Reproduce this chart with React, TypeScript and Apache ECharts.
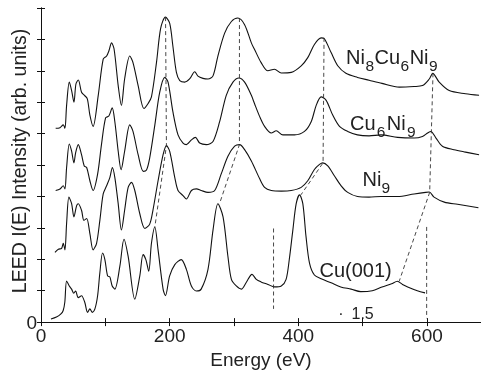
import React, { useEffect, useRef } from 'react';
import * as echarts from 'echarts';

const FONT = "'Liberation Sans', Arial, Helvetica, sans-serif";

// Energy (eV), intensity (arb. units) pairs
const cu001: [number, number][] = [
  [15.5, 0.1], [24, 0.16], [31, 0.26], [34.5, 0.37], [37, 0.63], [39.8, 1.31], [44, 1.15], [47.6, 1.05],
  [51, 0.92], [53.8, 0.99], [57.9, 0.78], [63, 0.84], [68, 0.63], [72.4, 0.31], [76, 0.42], [79.6, 0.31],
  [83.8, 0.42], [88, 0.84], [91.5, 1.57], [95.7, 2.2], [99.3, 1.99], [103.5, 1.47], [107, 1.44], [110.7, 1.15],
  [114.8, 1.05], [122.6, 1.78], [129, 2.64], [135.5, 2.09], [145.8, 0.73], [153.6, 1.47], [158.7, 2.15],
  [163, 1.99], [167.5, 1.62], [171.7, 2.51], [177, 3.03], [182, 2.3], [189.8, 1.05], [193.4, 0.84], [200, 1.47],
  [208, 1.83], [218, 1.99], [226, 1.68], [233.8, 1.15], [241.6, 0.99], [249, 1.05], [259.6, 1.68], [267.4, 2.93],
  [275, 3.77], [283, 3.35], [290.6, 2.09], [296, 1.36], [303.6, 1.15], [311.4, 1.05], [319, 1.26], [328, 1.52],
  [334.7, 1.36], [342, 1.28], [352.7, 1.2], [363, 1.12], [373.5, 1.15], [381, 1.36], [386, 2.0], [391.5, 2.93],
  [396.7, 3.77], [401.9, 4.05], [407, 3.77], [412, 2.72], [417.4, 1.88], [425, 1.5], [435.5, 1.38], [451, 1.25],
  [466, 1.12], [482, 1.05], [497, 0.97], [515, 1.0], [530, 1.12], [545, 1.22], [554, 1.3], [562, 1.2],
  [570, 1.12], [585, 1.0], [597, 0.93],
];

const ni9: [number, number][] = [
  [21.7, 2.22], [27, 2.32], [32, 2.35], [34.6, 2.51], [37.2, 2.3], [39.8, 3.14], [43.4, 3.98], [47.6, 3.77],
  [51.2, 3.35], [55.4, 3.71], [58, 3.77], [63, 3.56], [66.7, 3.24], [71, 3.3], [76, 2.82], [81, 2.3],
  [86.4, 2.51], [91.5, 3.24], [96.7, 4.08], [102, 4.34], [107, 4.6], [111, 4.92], [114.8, 4.6], [120, 3.77],
  [125, 2.93], [130, 3.56], [135.5, 4.29], [140.7, 4.45], [145.8, 4.19], [153.6, 3.45], [161.4, 2.98],
  [169, 3.12], [174, 3.56], [182, 4.5], [189.8, 5.33], [195, 5.62], [200, 5.44], [208, 4.6], [213, 4.19],
  [220.8, 4.03], [226, 3.92], [233.8, 4.19], [241.6, 4.24], [249, 4.19], [259.6, 4.13], [270, 4.19], [280, 4.71],
  [290.6, 5.28], [301, 5.6], [308.8, 5.65], [316.5, 5.49], [327, 5.13], [339.8, 4.57], [347.6, 4.29], [358, 4.19],
  [373.5, 4.17], [389, 4.19], [404.5, 4.29], [414.7, 4.5], [425, 4.86], [433, 5.02], [438, 5.07], [445.8, 4.97],
  [456, 4.66], [466.6, 4.34], [476.8, 4.13], [492, 4.0], [510, 3.98], [528.6, 4.0], [554.4, 4.0], [580, 4.08],
  [598, 4.13], [603.6, 4.14], [611, 3.98], [627, 3.82], [647.5, 3.75], [680, 3.64],
];

const cu6ni9: [number, number][] = [
  [22.8, 4.19], [29.5, 4.24], [34.6, 4.34], [37.2, 4.24], [39.8, 4.92], [44, 5.67], [47.6, 5.44], [51.2, 5.07],
  [53.8, 5.39], [58, 5.65], [63, 5.33], [67.2, 4.97], [71, 4.92], [76, 4.5], [81, 4.19], [88, 4.71], [94, 5.65],
  [100.4, 6.5], [105.5, 6.56], [110.7, 6.82], [114.8, 6.38], [120, 5.44], [124.5, 4.85], [130, 5.44], [138, 6.28],
  [143, 6.07], [151, 5.33], [159, 4.8], [164, 4.84], [169, 5.23], [177, 6.28], [184.6, 7.32], [192.4, 7.79],
  [197.5, 7.64], [205, 6.7], [213, 5.96], [220.8, 5.7], [226, 5.65], [233.8, 5.8], [240, 5.88], [246.7, 5.7],
  [257, 5.65], [267.4, 5.75], [277.7, 6.38], [288, 7.22], [298.4, 7.64], [307.7, 7.77], [316.5, 7.64], [327, 7.22],
  [332, 6.95], [339.8, 6.55], [347.6, 6.23], [358, 6.02], [365.7, 6.09], [376, 5.96], [394, 5.96], [409.6, 6.07],
  [420, 6.38], [427.8, 6.9], [435.5, 7.17], [443.3, 7.06], [453.5, 6.59], [464, 6.23], [476.8, 6.07], [492, 5.96],
  [510, 5.93], [528.6, 5.96], [554.4, 5.88], [580, 5.86], [593, 5.91], [601, 6.02], [606, 6.07], [614, 5.86],
  [624, 5.6], [642, 5.49], [658, 5.42], [681, 5.33],
];

const ni8cu6ni9: [number, number][] = [
  [22.8, 6.17], [29.5, 6.19], [34.6, 6.28], [37.2, 6.17], [39.8, 6.9], [44, 7.64], [47.6, 7.37], [51.2, 7.0],
  [54.3, 7.58], [58, 7.71], [63, 7.32], [67.5, 7.22], [72, 7.11], [76, 6.59], [81, 6.23], [89, 7.22],
  [96.7, 8.37], [102, 8.47], [105.5, 8.63], [109.7, 8.89], [113.7, 8.68], [120, 7.53], [125, 6.9], [130, 7.74],
  [138, 8.47], [143, 8.26], [151, 7.53], [160, 6.8], [166.5, 6.96], [171.7, 7.17], [179.5, 8.26], [186, 9.35],
  [193.4, 9.71], [200, 9.52], [205, 8.79], [210.5, 7.95], [215.7, 7.69], [223.4, 7.64], [231, 7.74], [239, 7.97],
  [244, 7.83], [251.8, 7.76], [259.6, 7.74], [267.4, 7.84], [275, 8.47], [285.5, 9.2], [296, 9.57], [306, 9.68],
  [316.5, 9.47], [327, 8.89], [332, 8.68], [342, 8.27], [352.7, 8.0], [363, 8.05], [373.5, 7.93], [389, 7.95],
  [404.5, 8.16], [414.7, 8.42], [425, 8.84], [435.5, 9.05], [440.6, 9.02], [451, 8.58], [461.3, 8.16], [474, 7.92],
  [492, 7.79], [510, 7.7], [530, 7.6], [557, 7.48], [580, 7.5], [593, 7.53], [603.6, 7.74], [609, 7.92],
  [619, 7.64], [634.6, 7.37], [660, 7.27], [681, 7.22],
];

// Dashed guide lines linking peaks
const guide1: [number, number][] = [[193.6, 9.71], [195, 5.62], [177, 3.03]];
const guide2: [number, number][] = [[308.5, 9.68], [308.5, 5.65], [277.5, 3.77]];
const guide3: [number, number][] = [[440, 9.05], [438.5, 5.07], [404, 4.05]];
const guide4: [number, number][] = [[609.4, 7.92], [604.2, 4.13], [557, 1.31]];
const guide5: [number, number][] = [[361.5, 2.98], [361.5, 0.42]];
const guide6: [number, number][] = [[599.5, 3.03], [599.5, 0.12]];

const xLabels = [0, 200, 400, 600];
const yLabels = [0];

// Curve labels: alternating normal / subscript pieces
const labelTop = ['Ni', '8', 'Cu', '6', 'Ni', '9'];
const labelCuNi = ['Cu', '6', 'Ni', '9'];
const labelNi = ['Ni', '9'];
const labelCu = ['Cu(001)'];

const ADV: Record<string, number> = { N: 0.722, i: 0.222, C: 0.722, u: 0.556, '(': 0.333, ')': 0.333 };
const advance = (s: string, size: number) => s.split('').reduce((a, c) => a + (ADV[c] ?? 0.556) * size, 0);

export default function App() {
  const ref = useRef<HTMLDivElement>(null);
  useEffect(() => {
    const chart = echarts.init(ref.current!, null, { renderer: 'svg' });
    const curve = (data: [number, number][]) => ({
      type: 'line', data, symbol: 'none', smooth: 0.3, silent: true,
      lineStyle: { color: '#111', width: 1.1 },
    });
    const dashed = (data: [number, number][]) => ({
      type: 'line', data, symbol: 'none', silent: true,
      lineStyle: { color: '#333', width: 0.9, type: [4, 3] },
    });
    const MAIN = 20;
    const SUB = 15.5;
    const subLabel = (parts: string[], x0: number, baseline: number, subDrop: number, gap = 0) => {
      const els: any[] = [];
      let x = x0;
      parts.forEach((p, i) => {
        const isSub = i % 2 === 1;
        const size = isSub ? SUB : MAIN;
        const base = isSub ? baseline + subDrop : baseline;
        els.push({
          type: 'text', x, y: base - 0.33 * size, silent: true,
          style: { text: p, align: 'left', verticalAlign: 'middle', fontSize: size, fontFamily: FONT, fill: '#222' },
        });
        x += advance(p, size) + gap;
      });
      return els;
    };
    chart.setOption({
      animation: false,
      grid: { left: 41, top: 8, width: 440.5, height: 318.7 },
      xAxis: [
        {
          type: 'value', min: 0, max: 684, interval: 100, position: 'bottom',
          axisLine: { lineStyle: { color: '#111', width: 1 } },
          axisTick: { inside: true, length: 4, lineStyle: { color: '#111' } },
          splitLine: { show: false },
          axisLabel: {
            margin: 4, fontSize: 19, fontFamily: FONT, color: '#222', showMaxLabel: false,
            formatter: (v: number) => (xLabels.includes(v) ? String(v) : ''),
          },
          name: 'Energy (eV)', nameLocation: 'middle', nameGap: 27,
          nameTextStyle: { fontSize: 19, fontFamily: FONT, color: '#222' },
        },
        {
          type: 'value', min: 0, max: 684, interval: 100, position: 'top',
          axisLine: { lineStyle: { color: '#111', width: 1 } },
          axisTick: { inside: true, length: 4, lineStyle: { color: '#111' } },
          splitLine: { show: false }, axisLabel: { show: false },
        },
      ],
      yAxis: [
        {
          type: 'value', min: 0, max: 10, interval: 1, position: 'left',
          axisLine: { show: true, lineStyle: { color: '#111', width: 1 } },
          axisTick: { show: true, inside: true, length: 4, lineStyle: { color: '#111' } },
          splitLine: { show: false },
          axisLabel: {
            margin: 4, fontSize: 19, fontFamily: FONT, color: '#222',
            formatter: (v: number) => (yLabels.includes(v) ? String(v) : ''),
          },
        },
        {
          type: 'value', min: 0, max: 10, interval: 1, position: 'right',
          axisLine: { show: true, lineStyle: { color: '#111', width: 1 } },
          axisTick: { show: true, inside: true, length: 4, lineStyle: { color: '#111' } },
          splitLine: { show: false }, axisLabel: { show: false },
        },
      ],
      series: [
        curve(cu001), curve(ni9), curve(cu6ni9), curve(ni8cu6ni9),
        dashed(guide1), dashed(guide2), dashed(guide3), dashed(guide4), dashed(guide5), dashed(guide6),
      ],
      graphic: [
        {
          type: 'text', x: 18.5, y: 161, rotation: Math.PI / 2, silent: true,
          style: {
            text: 'LEED I(E) Intensity (arb. units)', align: 'center', verticalAlign: 'middle',
            fontSize: 19.5, fontFamily: FONT, fill: '#222',
          },
        },
        ...subLabel(labelTop, 346, 63.5, 7.5, 0.5),
        ...subLabel(labelCuNi, 350, 130, 7, 1.3),
        ...subLabel(labelNi, 362.5, 186, 7),
        ...subLabel(labelCu, 319.5, 277, 0),
        {
          type: 'text', x: 341, y: 313, silent: true,
          style: { text: '·', align: 'center', verticalAlign: 'middle', fontSize: 16, fontFamily: FONT, fill: '#222' },
        },
        {
          type: 'text', x: 351.5, y: 313.5, silent: true,
          style: { text: '1.5', align: 'left', verticalAlign: 'middle', fontSize: 16, fontFamily: FONT, fill: '#222' },
        },
      ],
    });
    return () => chart.dispose();
  }, []);
  return <div ref={ref} style={{ position: 'fixed', left: 0, top: 0, width: 481, height: 374 }} />;
}
